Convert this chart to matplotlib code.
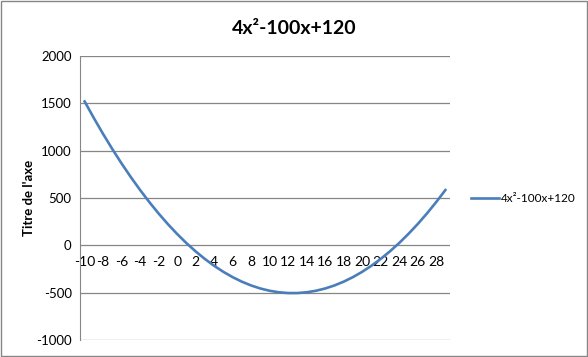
import matplotlib.pyplot as plt

# x categories and the y values of 4x^2-100x+120
x_vals = list(range(-10, 30))
y_vals = [1520, 1344, 1176, 1016, 864, 720, 584, 456, 336, 224,
          120, 24, -64, -144, -216, -280, -336, -384, -424, -456,
          -480, -496, -504, -504, -496, -480, -456, -424, -384, -336,
          -280, -216, -144, -64, 24, 120, 224, 336, 456, 584]
y_ticks = [-1000, -500, 0, 500, 1000, 1500, 2000]
title = "4x²-100x+120"

plt.rcParams['font.family'] = ['Lato', 'DejaVu Sans']

fig = plt.figure(figsize=(5.88, 3.57), dpi=100)
ax = fig.add_axes([80 / 588, 1 - 340 / 357, 370 / 588, 284 / 357])

pos = list(range(len(x_vals)))
line, = ax.plot(pos, y_vals, color='#4A7EBB', lw=1.9, solid_joinstyle='round',
                label=title)

ax.set_xlim(-0.5, len(x_vals) - 0.5)
ax.set_ylim(-1000, 2000)
ax.set_yticks(y_ticks)
ax.set_yticklabels([str(v) for v in y_ticks], fontsize=9.5)
ax.yaxis.grid(True, color='#868686', lw=0.9)
ax.set_axisbelow(True)

ax.set_xticks(pos[::2])
ax.set_xticklabels([str(v) for v in x_vals[::2]], fontsize=9.5)

for s in ['top', 'right']:
    ax.spines[s].set_visible(False)
ax.spines['bottom'].set_position(('data', 0))
ax.spines['bottom'].set_visible(False)
ax.spines['left'].set_color('#868686')
ax.tick_params(axis='both', length=0)
ax.tick_params(axis='x', pad=8)
ax.tick_params(axis='y', pad=6)

ax.set_ylabel("Titre de l'axe", fontsize=9.5, fontweight='bold', labelpad=1)

fig.suptitle(title, x=0.5, y=1 - 28 / 357, va='center', fontsize=14,
             fontweight='bold')

fig.legend(handles=[line], loc='center left', bbox_to_anchor=(471 / 588, 1 - 199 / 357),
           frameon=False, fontsize=8.5, handlelength=2.4, handletextpad=0.15,
           borderpad=0, borderaxespad=0)

# outer chart border
fig.patches.append(plt.Rectangle((0.002, 0.003), 0.996, 0.994, transform=fig.transFigure,
                                 fill=False, edgecolor='#868686', lw=1))

fig.savefig('out.png', dpi=100)
